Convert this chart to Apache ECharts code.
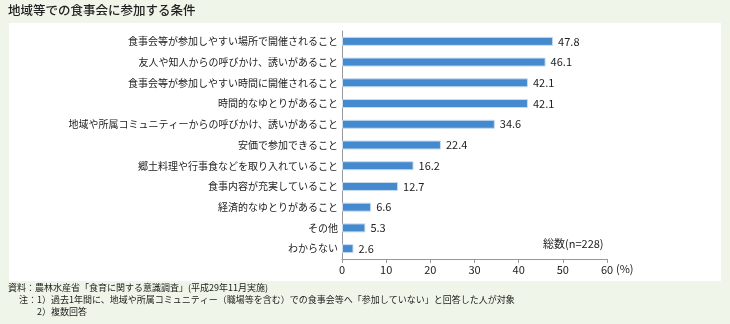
<!DOCTYPE html>
<html><head><meta charset="utf-8">
<script src="https://cdn.jsdelivr.net/npm/echarts@6/dist/echarts.min.js"></script>
<style>html,body{margin:0;padding:0;background:#eff5e8;}#c{width:730px;height:324px;}</style>
</head><body><div id="c"></div>
<script>
const categories = [
  "食事会等が参加しやすい場所で開催されること",
  "友人や知人からの呼びかけ、誘いがあること",
  "食事会等が参加しやすい時間に開催されること",
  "時間的なゆとりがあること",
  "地域や所属コミュニティーからの呼びかけ、誘いがあること",
  "安価で参加できること",
  "郷土料理や行事食などを取り入れていること",
  "食事内容が充実していること",
  "経済的なゆとりがあること",
  "その他",
  "わからない"
];
const values = [47.8, 46.1, 42.1, 42.1, 34.6, 22.4, 16.2, 12.7, 6.6, 5.3, 2.6];
const xTicks = [0, 10, 20, 30, 40, 50, 60];
const title = "地域等での食事会に参加する条件";
const footnotes = [
  "資料：農林水産省「食育に関する意識調査」(平成29年11月実施)",
  "　 注：1）過去1年間に、地域や所属コミュニティー（職場等を含む）での食事会等へ「参加していない」と回答した人が対象",
  "　　　 2）複数回答"
];
const font = '"Noto Sans CJK JP", sans-serif';
const chart = echarts.init(document.getElementById('c'));
chart.setOption({
  backgroundColor: '#eff5e8',
  animation: false,
  graphic: [
    {type:'rect', shape:{x:9,y:23,width:712,height:258}, style:{fill:'#ffffff'}, z:-10},
    {type:'text', left:8, top:4, style:{text:title, font:'500 12.5px '+font, fill:'#222'}},
    {type:'text', left:8, top:282, style:{text:footnotes.join('\n'), font:'9px '+font, fill:'#222', lineHeight:12}},
    {type:'text', left:543, top:238, style:{text:'総数(n=228)', font:'11px '+font, fill:'#222'}},
    {type:'text', left:616, top:263, style:{text:'(%)', font:'11px '+font, fill:'#222'}}
  ],
  grid: {left:342, right:123, top:31, bottom:65, containLabel:false},
  xAxis: {
    type:'value', min:0, max:60, interval:10,
    axisLine:{show:true, lineStyle:{color:'#999'}},
    axisTick:{show:true, length:4, lineStyle:{color:'#999'}},
    splitLine:{show:false},
    axisLabel:{color:'#222', fontSize:11, fontFamily:font, margin:5,
      formatter: v => xTicks.includes(v) ? String(v) : ''}
  },
  yAxis: {
    type:'category', data:categories, inverse:true,
    axisLine:{show:true, lineStyle:{color:'#999'}},
    axisTick:{show:false},
    axisLabel:{color:'#222', fontSize:10, fontFamily:font, margin:4}
  },
  series: [{
    type:'bar', data:values, barWidth:9,
    itemStyle:{color:'#4589cf', borderColor:'#c9dcf0', borderWidth:1},
    label:{show:true, position:'right', distance:5, color:'#222', fontSize:11, fontFamily:font,
      formatter: p => p.value.toFixed(1)}
  }]
});
</script></body></html>
